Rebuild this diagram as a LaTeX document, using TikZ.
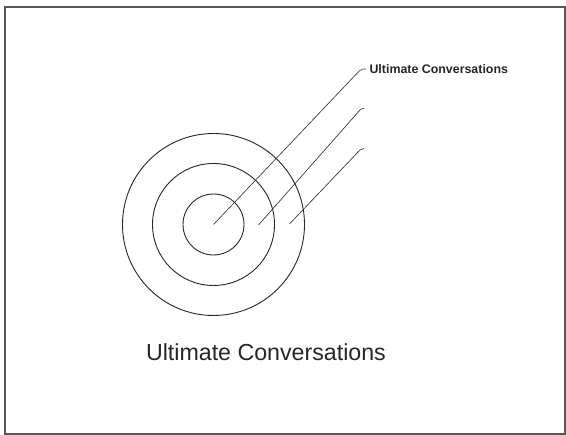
\documentclass[tikz,border=0pt]{standalone}
\usepackage{fontspec}
\setmainfont{Liberation Sans}
\usetikzlibrary{positioning}
\tikzstyle{ring} = [draw=black!85, circle, inner sep=0pt, line width=0.9pt]
\tikzstyle{pointer} = [draw=black!80, line width=0.65pt]

\begin{document}
\begin{tikzpicture}[x=1pt, y=1pt]
\useasboundingbox (0,0) rectangle (566,435);
\draw [line width=2pt, black!65] (5,428) rectangle (565,1);

\coordinate (centre) at (213.5,210.5);
\node [ring, minimum size=182pt] (outer) at (centre) {};
\node [ring, minimum size=122pt] (middle) at (centre) {};
\node [ring, minimum size=61pt] (inner) at (centre) {};

\coordinate (aim2) at (258.5,210);
\coordinate (aim3) at (289.5,211);
\coordinate (tip2) at (364,326.5);
\coordinate (tip3) at (364,286.5);

\node [anchor=west, text=black!85, font=\bfseries\fontsize{12.4}{14}\selectfont] (tag) at (366,366) {Ultimate Conversations};

\draw [pointer] (centre) -- ++(146,153.8) to[out=46,in=180] (tag.west);
\draw [pointer] (aim2) -- ++(101.5,115) to[out=48,in=180] (tip2);
\draw [pointer] (aim3) -- ++(70.5,74) to[out=46,in=180] (tip3);

\node [anchor=base west, text=black!85, font=\fontsize{23.2}{28}\selectfont] (title) at (142.5,74) {Ultimate Conversations};

\end{tikzpicture}
\end{document}
